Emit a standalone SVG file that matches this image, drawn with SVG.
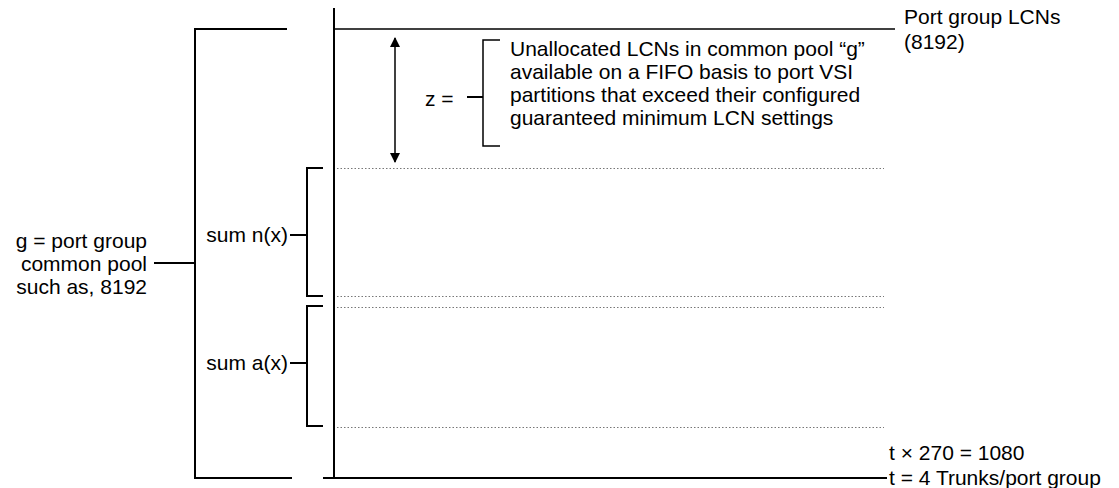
<svg xmlns="http://www.w3.org/2000/svg" width="1119" height="488" viewBox="0 0 1119 488">
<style>
text{font-family:"Liberation Sans",Arial,sans-serif;font-size:21px;fill:#000}
.s{stroke:#000;stroke-width:2;fill:none}
.t{stroke:#000;stroke-width:1.5;fill:none}
.d{stroke:#777;stroke-width:1;stroke-dasharray:1.5,2;fill:none}
</style>
<defs>
<marker id="ah" viewBox="0 0 10 10" refX="9" refY="5" markerWidth="10" markerHeight="10" markerUnits="userSpaceOnUse" orient="auto-start-reverse">
<path d="M0,0 L10,5 L0,10 z" fill="#000"/>
</marker>
</defs>
<g id="connectors">
<line class="s" x1="334" y1="8" x2="334" y2="479"/>
<line class="t" x1="334" y1="29" x2="895" y2="29"/>
<line class="s" x1="323" y1="478" x2="887" y2="478"/>
<line class="d" x1="337" y1="168.5" x2="884" y2="168.5"/>
<line class="d" x1="337" y1="296.5" x2="884" y2="296.5"/>
<line class="d" x1="337" y1="307.5" x2="884" y2="307.5"/>
<line class="d" x1="337" y1="427.5" x2="884" y2="427.5"/>
<line class="t" x1="395" y1="38" x2="395" y2="162" marker-start="url(#ah)" marker-end="url(#ah)"/>
</g>
<g id="pool-bracket">
<polyline class="s" points="287,29 195,29 195,478 292,478"/>
<line class="s" x1="154" y1="263" x2="195" y2="263"/>
<text x="147" y="248" text-anchor="end">g = port group</text>
<text x="147" y="271" text-anchor="end">common pool</text>
<text x="147" y="294" text-anchor="end">such as, 8192</text>
</g>
<g id="z-bracket">
<polyline class="t" points="500,40 483,40 483,146 500,146"/>
<line class="s" x1="467" y1="97" x2="483" y2="97"/>
<text x="425" y="106">z =</text>
<text x="510" y="56">Unallocated LCNs in common pool “g”</text>
<text x="510" y="79">available on a FIFO basis to port VSI</text>
<text x="510" y="102">partitions that exceed their configured</text>
<text x="510" y="125">guaranteed minimum LCN settings</text>
</g>
<g id="sum-n">
<polyline class="s" points="323,168 307,168 307,296 323,296"/>
<line class="s" x1="290" y1="235" x2="307" y2="235"/>
<text x="288" y="242" text-anchor="end">sum n(x)</text>
</g>
<g id="sum-a">
<polyline class="s" points="323,306 307,306 307,426 323,426"/>
<line class="s" x1="290" y1="363" x2="307" y2="363"/>
<text x="288" y="370" text-anchor="end">sum a(x)</text>
</g>
<g id="port-group-lcns">
<text x="904" y="24">Port group LCNs</text>
<text x="904" y="49">(8192)</text>
</g>
<g id="trunks">
<text x="889" y="460">t × 270 = 1080</text>
<text x="889" y="485">t = 4 Trunks/port group</text>
</g>
</svg>
